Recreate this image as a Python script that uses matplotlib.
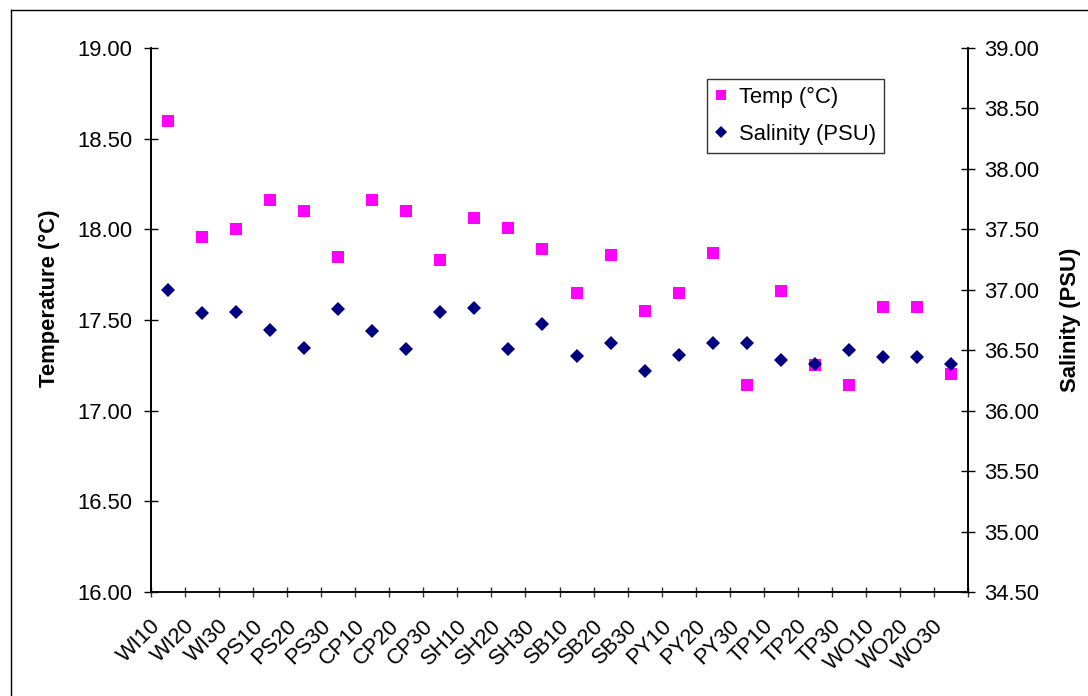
import numpy as np
import matplotlib
matplotlib.use("Agg")
import matplotlib.pyplot as plt
from matplotlib.lines import Line2D
from matplotlib.transforms import ScaledTranslation

plt.rcParams['font.family'] = ['Liberation Sans', 'DejaVu Sans']

stations = ["WI10", "WI20", "WI30", "PS10", "PS20", "PS30", "CP10", "CP20",
            "CP30", "SH10", "SH20", "SH30", "SB10", "SB20", "SB30", "PY10",
            "PY20", "PY30", "TP10", "TP20", "TP30", "WO10", "WO20", "WO30"]
temp = [18.60, 17.96, 18.00, 18.16, 18.10, 17.85, 18.16, 18.10,
        17.83, 18.06, 18.01, 17.89, 17.65, 17.86, 17.55, 17.65,
        17.87, 17.14, 17.66, 17.25, 17.14, 17.57, 17.57, 17.20]
salinity = [37.00, 36.81, 36.82, 36.67, 36.52, 36.84, 36.66, 36.51,
            36.82, 36.85, 36.51, 36.72, 36.45, 36.56, 36.33, 36.46,
            36.56, 36.56, 36.42, 36.39, 36.50, 36.44, 36.44, 36.39]
temp_ticks = [16.0, 16.5, 17.0, 17.5, 18.0, 18.5, 19.0]
sal_ticks = [34.5, 35.0, 35.5, 36.0, 36.5, 37.0, 37.5, 38.0, 38.5, 39.0]

FS = 15.8
x = np.arange(len(stations))

fig = plt.figure(figsize=(10.88, 6.96), dpi=100)
ax = fig.add_axes([151 / 1088, 1 - 592 / 696, 817 / 1088, 544 / 696])
ax2 = ax.twinx()

ax.plot(x, temp, linestyle="none", marker="s", ms=8.5, mew=0,
        color="#FF00FF", label="Temp (°C)")
ax2.plot(x, salinity, linestyle="none", marker="D", ms=7.2, mew=0,
         color="#000080", label="Salinity (PSU)")

ax.set_xlim(-0.5, len(stations) - 0.5)
ax.set_ylim(16.0, 19.0)
ax2.set_ylim(34.5, 39.0)
ax.set_yticks(temp_ticks)
ax.set_yticklabels([f"{v:.2f}" for v in temp_ticks])
ax2.set_yticks(sal_ticks)
ax2.set_yticklabels([f"{v:.2f}" for v in sal_ticks])

# category labels at centres, tick marks at boundaries
ax.set_xticks(x)
ax.set_xticklabels(stations, rotation=45, ha="right", va="top",
                   rotation_mode="anchor")
ax.set_xticks(np.arange(-0.5, len(stations)), minor=True)
ax.tick_params(axis="x", which="major", length=0, pad=16.8, labelsize=FS)
ax.tick_params(axis="x", which="minor", direction="inout", length=7.2,
               width=1, color="#333333")
ax.tick_params(axis="y", direction="inout", length=10, width=1, pad=8.6,
               labelsize=FS)
ax2.tick_params(axis="y", direction="inout", length=10, width=1, pad=6.5,
                labelsize=FS)
for lab in ax.get_xticklabels():
    lab.set_transform(lab.get_transform() +
                      ScaledTranslation(-18 / 100, 0, fig.dpi_scale_trans))

for a in (ax, ax2):
    a.spines["top"].set_visible(False)
    for s in ("left", "right", "bottom"):
        a.spines[s].set_linewidth(1.2)
        a.spines[s].set_color("black")
ax.spines["bottom"].set_color("#333333")

ax.set_ylabel("Temperature (°C)", fontsize=FS, fontweight="bold")
ax.yaxis.set_label_coords(-0.111, 0.54)
ax2.set_ylabel("Salinity (PSU)", fontsize=FS, fontweight="bold")
ax2.yaxis.set_label_coords(1.112, 0.5)

h1, l1 = ax.get_legend_handles_labels()
h2, l2 = ax2.get_legend_handles_labels()
leg = ax2.legend(h1 + h2, l1 + l2, loc="upper left",
                 bbox_to_anchor=((707 - 151) / 817, (592 - 79) / 544),
                 borderaxespad=0, fontsize=FS, frameon=True, fancybox=False,
                 edgecolor="black", handlelength=0.6, handletextpad=0.5,
                 borderpad=0.35, labelspacing=0.73, markerscale=0.78)
leg.get_frame().set_linewidth(1.0)

# chart-area border (only top and left edges fall inside the image)
fig.add_artist(Line2D([11 / 1088, 11 / 1088], [0, 1 - 10 / 696],
                      transform=fig.transFigure, color="black", lw=1))
fig.add_artist(Line2D([11 / 1088, 1], [1 - 10 / 696, 1 - 10 / 696],
                      transform=fig.transFigure, color="black", lw=1))

fig.savefig("out.png", dpi=100)
